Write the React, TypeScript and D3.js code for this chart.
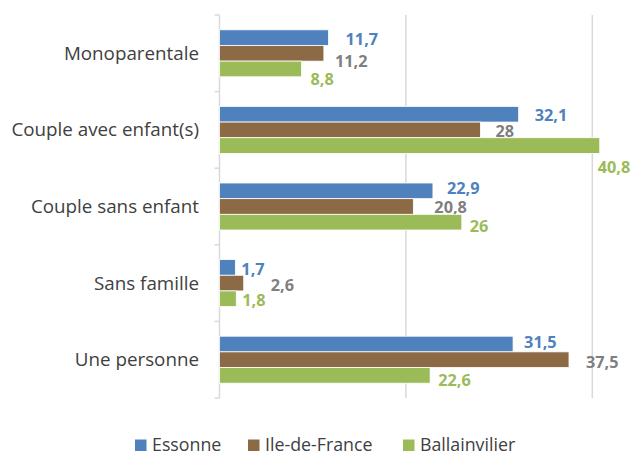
import React, { useRef, useEffect } from "react";
import * as d3 from "d3";

// categories (top to bottom)
const categories = [
  "Monoparentale",
  "Couple avec enfant(s)",
  "Couple sans enfant",
  "Sans famille",
  "Une personne",
];
const seriesNames = ["Essonne", "Ile-de-France", "Ballainvilier"];
const essonne = [11.7, 32.1, 22.9, 1.7, 31.5];
const ileDeFrance = [11.2, 28, 20.8, 2.6, 37.5];
const ballainvilier = [8.8, 40.8, 26, 1.8, 22.6];
const gridTicks = [0, 20, 40];

// label nudges as in the original (manually placed in the source chart)
const labelDx = [
  [17, 11, 9],
  [16, 15, -2],
  [14, 21, 8],
  [6, 27, 6],
  [11, 17, 8],
];
const labelDy = [
  [1, 7.5, 10],
  [0.5, 1.5, 22],
  [-3, 1, 4],
  [2, 2, 1],
  [-1.5, 2, 5],
];

const barColors = ["#4F81BD", "#8C6A46", "#9BBB59"];
const labelColors = ["#4F81BD", "#7F7F7F", "#9BBB59"];
const FONT = "'Open Sans', 'Liberation Sans', sans-serif";

const App = () => {
  const svgRef = useRef<SVGSVGElement>(null);

  useEffect(() => {
    const svg = d3.select(svgRef.current);
    svg.selectAll("*").remove();

    const values = [essonne, ileDeFrance, ballainvilier];

    const x = d3.scaleLinear().domain([0, 40]).range([219.5, 592.3]);
    const y0 = d3.scaleBand().domain(categories).range([15, 398]).padding(0);
    const y1 = d3
      .scaleBand()
      .domain(seriesNames)
      .range([0, y0.bandwidth()])
      .paddingInner(0)
      .paddingOuter(0.945);

    // gridlines
    svg
      .append("g")
      .selectAll("line")
      .data(gridTicks.slice(1))
      .enter()
      .append("line")
      .attr("x1", (d) => x(d))
      .attr("x2", (d) => x(d))
      .attr("y1", 15)
      .attr("y2", 398)
      .attr("stroke", "#D9D9D9")
      .attr("stroke-width", 1.5);

    // axis line + ticks
    const axis = svg.append("g");
    axis
      .append("line")
      .attr("x1", x(0))
      .attr("x2", x(0))
      .attr("y1", 15)
      .attr("y2", 398)
      .attr("stroke", "#D9D9D9")
      .attr("stroke-width", 1.5);
    const bounds = categories.map((c) => y0(c)!).concat([398]);
    axis
      .selectAll("line.tick")
      .data(bounds)
      .enter()
      .append("line")
      .attr("class", "tick")
      .attr("x1", x(0) - 5)
      .attr("x2", x(0))
      .attr("y1", (d) => d)
      .attr("y2", (d) => d)
      .attr("stroke", "#D9D9D9")
      .attr("stroke-width", 1.5);

    // category labels
    svg
      .append("g")
      .selectAll("text")
      .data(categories)
      .enter()
      .append("text")
      .attr("x", 199)
      .attr("y", (d) => y0(d)! + y0.bandwidth() / 2)
      .attr("dy", "0.35em")
      .attr("text-anchor", "end")
      .attr("font-family", FONT)
      .attr("font-size", 18.8)
      .attr("fill", "#404040")
      .text((d) => d);

    // bars
    categories.forEach((cat, ci) => {
      const g = svg.append("g").attr("transform", `translate(0,${y0(cat)})`);
      seriesNames.forEach((s, si) => {
        const v = values[si][ci];
        g.append("rect")
          .attr("x", x(0))
          .attr("y", y1(s)!)
          .attr("width", x(v) - x(0))
          .attr("height", y1.bandwidth())
          .attr("fill", barColors[si])
          .attr("stroke", "#ffffff")
          .attr("stroke-width", 0.8);
        g.append("text")
          .attr("x", x(v) + labelDx[ci][si])
          .attr("y", y1(s)! + y1.bandwidth() / 2 + labelDy[ci][si])
          .attr("dy", "0.36em")
          .attr("font-family", FONT)
          .attr("font-weight", "bold")
          .attr("font-size", 16.3)
          .attr("fill", labelColors[si])
          .text(String(v).replace(".", ","));
      });
    });

    // legend
    const legendX = [135, 248, 403];
    const legend = svg.append("g");
    seriesNames.forEach((s, i) => {
      legend
        .append("rect")
        .attr("x", legendX[i])
        .attr("y", 439.5)
        .attr("width", 11.5)
        .attr("height", 11.5)
        .attr("fill", barColors[i]);
      legend
        .append("text")
        .attr("x", legendX[i] + 17)
        .attr("y", 445)
        .attr("dy", "0.36em")
        .attr("font-family", FONT)
        .attr("font-size", 17.8)
        .attr("fill", "#404040")
        .text(s);
    });
  }, []);

  return (
    <svg
      ref={svgRef}
      width={631}
      height={457}
      style={{ position: "absolute", left: 0, top: 0, background: "#fff" }}
    />
  );
};

export default App;
